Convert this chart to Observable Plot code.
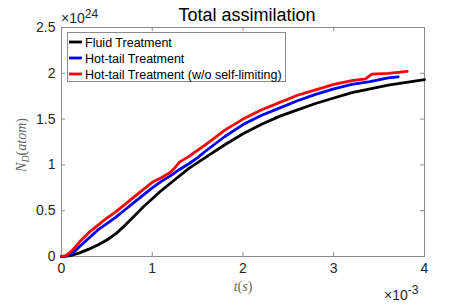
<!DOCTYPE html>
<html><head><meta charset="utf-8">
<script src="https://cdn.jsdelivr.net/npm/d3@7"></script>
<script src="https://cdn.jsdelivr.net/npm/@observablehq/plot@0.6"></script>
<style>
body{margin:0;background:#fff;}
#chart{position:relative;width:469px;height:305px;}
</style>
</head><body><div id="chart"></div>
<script>
// time in units of 1e-3 s, N_D in units of 1e24 atoms
const seriesNames = ["Fluid Treatment", "Hot-tail Treatment", "Hot-tail Treatment (w/o self-limiting)"];
const seriesColors = ["#000000", "#0000ff", "#ff0000"];

const tFluid = [0,0.1,0.2,0.3,0.4,0.5,0.6,0.7,0.8,0.9,1.0,1.1,1.2,1.4,1.6,1.8,2.0,2.2,2.4,2.6,2.8,3.0,3.2,3.4,3.6,3.8,4.0];
const nFluid = [0,0.01,0.04,0.08,0.125,0.18,0.25,0.34,0.44,0.54,0.63,0.72,0.80,0.96,1.09,1.22,1.34,1.44,1.53,1.60,1.67,1.73,1.79,1.83,1.87,1.90,1.93];

const tHot = [0,0.05,0.1,0.15,0.2,0.3,0.4,0.5,0.6,0.7,0.8,0.9,1.0,1.1,1.2,1.3,1.4,1.5,1.6,1.8,2.0,2.2,2.4,2.6,2.8,3.0,3.2,3.4,3.6,3.71];
const nHot = [0,0.005,0.03,0.06,0.11,0.20,0.29,0.36,0.43,0.51,0.59,0.67,0.75,0.82,0.88,0.95,1.01,1.08,1.16,1.31,1.44,1.54,1.62,1.70,1.77,1.83,1.88,1.91,1.95,1.96];

const tHotNoLim = [0,0.05,0.1,0.15,0.2,0.3,0.4,0.5,0.6,0.7,0.8,0.9,1.0,1.1,1.2,1.25,1.3,1.4,1.5,1.6,1.8,2.0,2.2,2.4,2.6,2.8,3.0,3.2,3.35,3.42,3.6,3.81];
const nHotNoLim = [0,0.01,0.05,0.10,0.16,0.26,0.34,0.42,0.49,0.57,0.65,0.73,0.81,0.86,0.92,0.97,1.03,1.09,1.16,1.23,1.38,1.50,1.60,1.68,1.76,1.82,1.88,1.92,1.94,1.99,2.00,2.02];

const xTicks = [0,1,2,3,4];
const yTicks = [0,0.5,1,1.5,2,2.5];
const xTickLabels = ["0","1","2","3","4"];
const yTickLabels = ["0","0.5","1","1.5","2","2.5"];

const tList = [tFluid, tHot, tHotNoLim];
const nList = [nFluid, nHot, nHotNoLim];
const data = seriesNames.flatMap((s, k) => tList[k].map((t, i) => ({series: s, t, n: nList[k][i]})));

const axisCol = "#8c8c8c";
const textCol = "#262626";
const W = 469, H = 305, mL = 61, mR = 45, mT = 27, mB = 49;
const innerW = W - mL - mR, innerH = H - mT - mB, tick = 4;

const plot = Plot.plot({
  width: W, height: H,
  marginLeft: mL, marginRight: mR, marginTop: mT, marginBottom: mB,
  style: {fontFamily: "'Liberation Sans', Arial, sans-serif", fontSize: "14px", color: textCol, background: "#fff", overflow: "visible"},
  x: {domain: [0, 4], label: null, axis: null},
  y: {domain: [0, 2.5], label: null, axis: null},
  color: {domain: seriesNames, range: seriesColors},
  marks: [
    Plot.frame({stroke: axisCol}),
    Plot.ruleX(xTicks, {x: d => d, stroke: axisCol, insetTop: innerH - tick}),
    Plot.ruleX(xTicks, {x: d => d, stroke: axisCol, insetBottom: innerH - tick}),
    Plot.ruleY(yTicks, {y: d => d, stroke: axisCol, insetRight: innerW - tick}),
    Plot.ruleY(yTicks, {y: d => d, stroke: axisCol, insetLeft: innerW - tick}),
    Plot.text(xTicks, {x: d => d, text: (d, i) => xTickLabels[i], frameAnchor: "bottom", lineAnchor: "top", dy: 7, fill: textCol, fontSize: 14}),
    Plot.text(yTicks, {y: d => d, text: (d, i) => yTickLabels[i], frameAnchor: "left", textAnchor: "end", dx: -6, fill: textCol, fontSize: 14}),
    Plot.line(data, {x: "t", y: "n", z: "series", stroke: "series", strokeWidth: 2.8, strokeLinejoin: "round"})
  ]
});
document.getElementById("chart").appendChild(plot);

const svg = d3.select(plot);
const sans = "'Liberation Sans', Arial, sans-serif";
const serif = "'Liberation Serif', 'DejaVu Serif', serif";
// title
svg.append("text").attr("x", 247).attr("y", 21).attr("text-anchor", "middle")
  .attr("font-family", sans).attr("font-size", 18).attr("fill", "#000")
  .text("Total assimilation");
// y exponent
const ye = svg.append("text").attr("x", 61).attr("y", 23).attr("text-anchor", "start")
  .attr("font-family", sans).attr("font-size", 14).attr("fill", textCol);
ye.append("tspan").text("×10");
ye.append("tspan").attr("dy", -5).attr("font-size", 12).text("24");
// x exponent
const xe = svg.append("text").attr("x", 384).attr("y", 300).attr("text-anchor", "start")
  .attr("font-family", sans).attr("font-size", 14).attr("fill", textCol);
xe.append("tspan").text("×10");
xe.append("tspan").attr("dy", -6).attr("font-size", 12).text("-3");
// x label
const xl = svg.append("text").attr("x", 243).attr("y", 291).attr("text-anchor", "middle")
  .attr("font-family", serif).attr("font-style", "italic")
  .attr("font-size", 14).attr("fill", "#666");
xl.append("tspan").text("t");
xl.append("tspan").attr("font-style", "normal").text("(");
xl.append("tspan").text("s");
xl.append("tspan").attr("font-style", "normal").text(")");
// y label
const yl = svg.append("text").attr("transform", "translate(26,145) rotate(-90)").attr("text-anchor", "middle")
  .attr("font-family", serif).attr("font-style", "italic")
  .attr("font-size", 14).attr("fill", "#666");
yl.append("tspan").text("N");
yl.append("tspan").attr("dy", 3).attr("font-size", 10).text("D");
yl.append("tspan").attr("dy", -3).attr("font-style", "normal").text("(");
yl.append("tspan").text("atom");
yl.append("tspan").attr("font-style", "normal").text(")");
// legend
const lg = svg.append("g");
lg.append("rect").attr("x", 67.5).attr("y", 32.5).attr("width", 218).attr("height", 49)
  .attr("fill", "#fff").attr("stroke", axisCol);
seriesNames.forEach((s, i) => {
  const y = 42 + i * 16;
  lg.append("line").attr("x1", 69).attr("x2", 82).attr("y1", y).attr("y2", y)
    .attr("stroke", seriesColors[i]).attr("stroke-width", 2.8);
  lg.append("text").attr("x", 85).attr("y", y).attr("dy", "0.36em").attr("text-anchor", "start")
    .attr("font-family", sans).attr("font-size", 12.5).attr("fill", "#000")
    .text(s);
});
</script>
</body></html>
